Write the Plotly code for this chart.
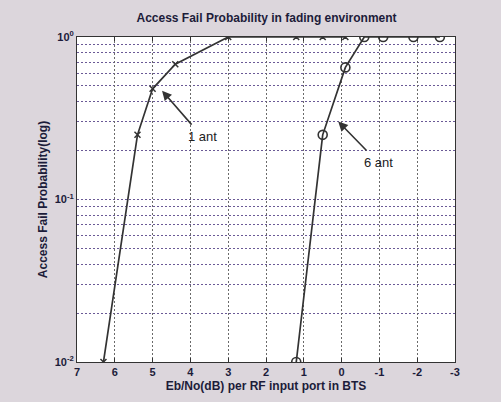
import plotly.graph_objects as go

title = "Access Fail Probability in fading environment"
x_title = "Eb/No(dB) per RF input port in BTS"
y_title = "Access Fail Probability(log)"

ant1_x = [6.3, 5.4, 5.0, 4.4, 3.0, 1.2, 0.5, -0.1]
ant1_y = [0.01, 0.25, 0.48, 0.68, 1.0, 1.0, 1.0, 1.0]
ant6_x = [1.2, 0.5, -0.1, -0.6, -1.1, -1.9, -2.6]
ant6_y = [0.01, 0.25, 0.65, 1.0, 1.0, 1.0, 1.0]

x_ticks = [7, 6, 5, 4, 3, 2, 1, 0, -1, -2, -3]
y_major = [0.01, 0.1, 1.0]
y_major_text = ["10<sup>-2</sup>", "10<sup>-1</sup>", "10<sup>0</sup>"]
y_minor = [m * 10 ** e for e in (-2, -1) for m in range(2, 10)]

fig = go.Figure()
fig.add_trace(go.Scatter(x=ant1_x, y=ant1_y, mode="lines+markers", name="1 ant",
                         line=dict(color="#333333", width=1.7),
                         marker=dict(symbol="x-thin", size=6, color="#333333",
                                     line=dict(width=1.5, color="#333333"))))
fig.add_trace(go.Scatter(x=ant6_x, y=ant6_y, mode="lines+markers", name="6 ant",
                         line=dict(color="#333333", width=1.7),
                         marker=dict(symbol="circle-open", size=9, color="#333333",
                                     line=dict(width=1.6))))

fig.add_annotation(x=4.75, y=-0.33, xref="x", yref="y", text="1 ant", showarrow=True,
                   ax=40, ay=46, arrowhead=2, arrowsize=1.2, arrowwidth=1.6, borderpad=4,
                   arrowcolor="#333333", font=dict(size=13, color="#222222",
                                                   family="Liberation Sans"))
fig.add_annotation(x=0.09, y=-0.52, xref="x", yref="y", text="6 ant", showarrow=True,
                   ax=40, ay=41, arrowhead=2, arrowsize=1.2, arrowwidth=1.6, borderpad=4,
                   arrowcolor="#333333", font=dict(size=13, color="#222222",
                                                   family="Liberation Sans"))

font_c = "#1c1c3a"
h_grid = "#6a5a96"
fig.update_layout(
    width=501, height=402,
    margin=dict(l=77, r=46, t=37, b=40),
    paper_bgcolor="#dcd6dc", plot_bgcolor="white",
    showlegend=False,
    title=dict(text="<b>" + title + "</b>", x=0.532, xanchor="center", y=0.955,
               yanchor="middle", font=dict(size=12, color=font_c, family="Liberation Sans")),
    font=dict(family="Liberation Sans", color=font_c),
)
fig.update_xaxes(range=[7, -3], tickvals=x_ticks, ticktext=[f"<b>{v}</b>" for v in x_ticks],
                 tickfont=dict(size=11, color=font_c),
                 showgrid=True, gridcolor="#6a6a6a", griddash="2px,2px", gridwidth=1,
                 ticks="inside", ticklen=4, tickcolor="#333333",
                 showline=True, linecolor="#333333", linewidth=1, mirror="ticks",
                 zeroline=False,
                 title=dict(text="<b>" + x_title + "</b>", standoff=4,
                            font=dict(size=12, color=font_c)))
fig.update_yaxes(type="log", range=[-2, 0], tickvals=y_major,
                 ticktext=["<b>" + t + "</b>" for t in y_major_text],
                 tickfont=dict(size=11, color=font_c),
                 showgrid=True, gridcolor=h_grid, griddash="2px,2px", gridwidth=1,
                 minor=dict(tickvals=y_minor, showgrid=True, gridcolor=h_grid,
                            griddash="2px,2px", gridwidth=1, ticks=""),
                 ticks="", showline=True, linecolor="#333333", linewidth=1, mirror=True,
                 zeroline=False,
                 title=dict(text="<b>" + y_title + "</b>", standoff=4,
                            font=dict(size=12, color=font_c)))

fig.write_html("out.html", post_script="document.body.style.margin='0';",
               config={"displayModeBar": False})
